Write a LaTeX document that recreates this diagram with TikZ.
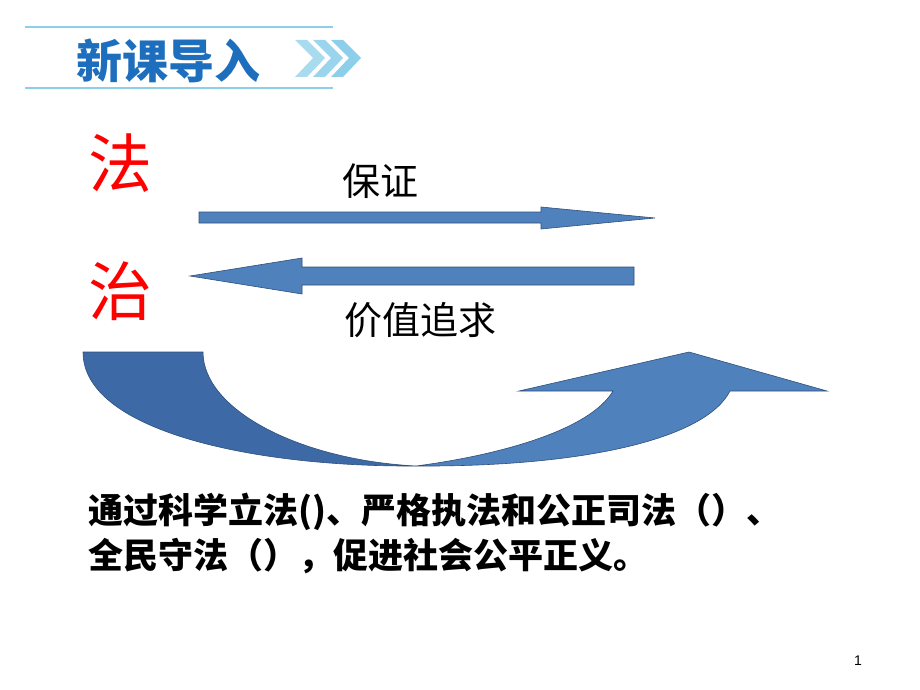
\documentclass[tikz,border=0pt]{standalone}
\usepackage{fontspec}
\setmainfont{Liberation Sans}
\newfontfamily\cjk{Noto Sans CJK SC}
\usepackage{tikz}
\usetikzlibrary{positioning}

\definecolor{titleblue}{HTML}{1E6EBE}
\definecolor{lineblue}{HTML}{8DCFEA}
\definecolor{arrowblue}{HTML}{4F81BD}
\definecolor{arrowdark}{HTML}{3D6AA6}
\definecolor{edgeblue}{HTML}{2F4F7A}

\begin{document}
\begin{tikzpicture}
            [x=1pt,y=-1pt,
            txt/.style={inner sep=0pt,font=\cjk\fontsize{#1}{#1}\selectfont},
            blk/.style={fill=arrowblue,draw=edgeblue,line width=0.6pt,line join=miter},
            chev/.style={fill=#1,draw=none}]
            \useasboundingbox (0,0) rectangle (920,690);
            % header
            \draw[lineblue,line width=2pt] (25,27) -- (333,27);
            \draw[lineblue,line width=2pt] (25,88) -- (333,88);
            \node[txt=46,text=titleblue,font=\cjk\bfseries\fontsize{46}{46}\selectfont] (title) at (168,61) {新课导入};
            \foreach \dx/\c in {0/lineblue!75,18/lineblue!88,36/lineblue}
                \fill[chev=\c] (295+\dx,40) -- (307+\dx,40) -- (325+\dx,58) -- (307+\dx,77) -- (295+\dx,77) -- (313+\dx,58) -- cycle;
            % left words
            \node[txt=64,text=red] (fa) at (120,163) {法};
            \node[txt=64,text=red] (zhi) at (120,291) {治};
            \node[txt=38] (baozheng) at (380,181) {保证};
            \node[txt=38] (jiazhi) at (420,320) {价值追求};
            % straight arrows
            \draw[blk] (199,212) -- (541,212) -- (541,207) -- (655,218) -- (541,229) -- (541,223) -- (199,223) -- cycle;
            \draw[blk] (634,267) -- (302,267) -- (302,258) -- (190,276) -- (302,294) -- (302,285) -- (634,285) -- cycle;
            % curved arrow
            \draw[blk] (416,466) .. controls (500,455) and (590,430) .. (613,391)
                -- (519,391) -- (689,352) -- (827,391) -- (730,391)
                .. controls (705,440) and (580,467) .. (416,466) -- cycle;
            \draw[blk,fill=arrowdark] (83,352) -- (203,352)
                .. controls (203,410) and (300,460) .. (416,466)
                .. controls (250,467) and (83,430) .. (83,352) -- cycle;
            % bottom text
            \node[txt=35,font=\cjk\bfseries\fontsize{35}{35}\selectfont,anchor=west] (line1) at (88,512) {通过科学立法()、严格执法和公正司法（）、};
            \node[txt=35,font=\cjk\bfseries\fontsize{35}{35}\selectfont,anchor=west] (line2) at (88,556) {全民守法（），促进社会公平正义。};
            \node[inner sep=0pt,font=\fontsize{14}{14}\selectfont] (page) at (858,661) {1};
        \end{tikzpicture}
\end{document}
